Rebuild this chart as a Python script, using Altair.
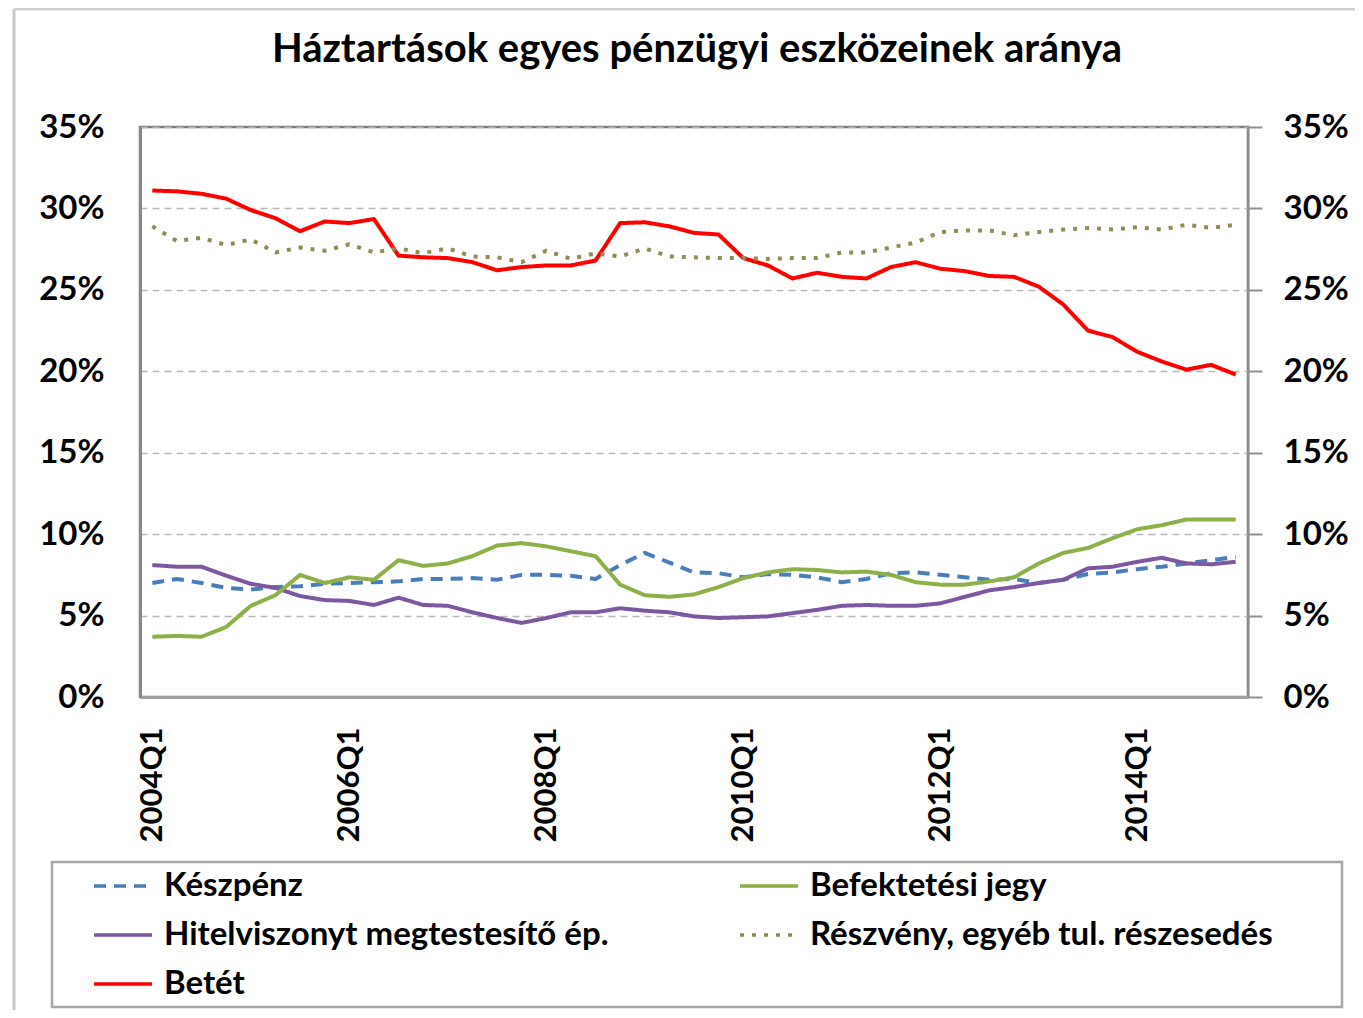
import altair as alt
import pandas as pd

quarters = [f"{y}Q{q}" for y in range(2004, 2016) for q in range(1, 5)][:45]
tick_labels = ["2004Q1", "2006Q1", "2008Q1", "2010Q1", "2012Q1", "2014Q1"]
title_text = "Háztartások egyes pénzügyi eszközeinek aránya"

series_names = ["Készpénz", "Befektetési jegy", "Hitelviszonyt megtestesítő ép.",
                "Részvény, egyéb tul. részesedés", "Betét"]
series_colors = ["#4a7ebb", "#8db048", "#7b58a0", "#948a54", "#ff0000"]
series_dash = [[12, 8], [1, 0], [1, 0], [4, 8], [1, 0]]

keszpenz = [7.0, 7.25, 7.0, 6.7, 6.6, 6.75, 6.8, 6.95, 7.0, 7.05, 7.1, 7.25, 7.25, 7.3, 7.2,
            7.5, 7.5, 7.45, 7.25, 8.1, 8.85, 8.25, 7.65, 7.6, 7.35, 7.55, 7.5, 7.35, 7.05, 7.25,
            7.6, 7.65, 7.5, 7.35, 7.2, 7.25, 7.0, 7.2, 7.55, 7.65, 7.85, 8.0, 8.2, 8.4, 8.6]
befektetesi = [3.7, 3.75, 3.7, 4.3, 5.6, 6.25, 7.5, 7.0, 7.35, 7.2, 8.4, 8.05, 8.2, 8.65, 9.3,
               9.45, 9.25, 8.95, 8.65, 6.9, 6.25, 6.15, 6.3, 6.75, 7.3, 7.65, 7.85, 7.8, 7.65, 7.7,
               7.5, 7.05, 6.9, 6.9, 7.1, 7.35, 8.2, 8.85, 9.15, 9.75, 10.3, 10.55, 10.9, 10.9, 10.9]
hitel = [8.1, 8.0, 8.0, 7.45, 6.95, 6.7, 6.2, 5.95, 5.9, 5.65, 6.1, 5.65, 5.6, 5.2, 4.85,
         4.55, 4.85, 5.2, 5.2, 5.45, 5.3, 5.2, 4.95, 4.85, 4.9, 4.95, 5.15, 5.35, 5.6, 5.65,
         5.6, 5.6, 5.75, 6.15, 6.55, 6.75, 7.0, 7.2, 7.9, 8.0, 8.3, 8.55, 8.2, 8.15, 8.3]
reszveny = [28.9, 28.0, 28.2, 27.75, 28.1, 27.3, 27.6, 27.4, 27.8, 27.3, 27.55, 27.25, 27.55, 27.05, 27.0,
            26.7, 27.4, 26.9, 27.25, 27.05, 27.55, 27.05, 27.0, 26.95, 26.95, 26.9, 26.95, 26.95, 27.3, 27.3,
            27.6, 27.9, 28.55, 28.65, 28.65, 28.35, 28.55, 28.7, 28.8, 28.7, 28.85, 28.7, 29.0, 28.8, 29.0]
betet = [31.1, 31.05, 30.9, 30.6, 29.9, 29.4, 28.6, 29.2, 29.1, 29.35, 27.1, 27.0, 26.95, 26.7, 26.2,
         26.4, 26.5, 26.5, 26.8, 29.1, 29.15, 28.9, 28.5, 28.4, 26.95, 26.5, 25.7, 26.05, 25.8, 25.7,
         26.4, 26.7, 26.3, 26.15, 25.85, 25.8, 25.2, 24.1, 22.5, 22.1, 21.2, 20.6, 20.1, 20.4, 19.8]

series_values = [keszpenz, befektetesi, hitel, reszveny, betet]
draw_order = [0, 2, 4, 1, 3]
# legend is filled column by column: column 1 = Készpénz, Hitel..., Betét; column 2 = the rest
legend_order = [0, 2, 4, 1, 3]
leg_names = [series_names[k] for k in legend_order]
leg_colors = [series_colors[k] for k in legend_order]
leg_dash = [series_dash[k] for k in legend_order]

rows = []
for k in draw_order:
    for q, v in zip(quarters, series_values[k]):
        rows.append({"negyedev": q, "sorozat": series_names[k], "ertek": v / 100.0, "rend": k})
df = pd.DataFrame(rows)

FONT = "Lato"
yvals = [0, 0.05, 0.10, 0.15, 0.20, 0.25, 0.30, 0.35]
yscale = alt.Scale(domain=[0, 0.35], nice=False, zero=True)
xscale = alt.Scale(type="point", domain=quarters, padding=0.5)

lines = alt.Chart(df).mark_line(strokeWidth=4, strokeCap="butt", strokeJoin="round").encode(
    x=alt.X("negyedev:N", scale=xscale, sort=quarters, title=None,
            axis=alt.Axis(values=tick_labels, labelAngle=-90, ticks=False, grid=False,
                          domainColor="#a0a0a0", domainWidth=3, labelPadding=30,
                          labelFont=FONT, labelFontSize=31, labelFontWeight="bold",
                          labelColor="#000000")),
    y=alt.Y("ertek:Q", scale=yscale, title=None,
            axis=alt.Axis(values=yvals, format=".0%", ticks=False, grid=True,
                          gridColor="#b8b8b8", gridDash=[7, 5], gridWidth=1.5,
                          domainColor="#888888", domainWidth=3, labelPadding=36,
                          labelFont=FONT, labelFontSize=33, labelFontWeight="bold",
                          labelColor="#000000")),
    color=alt.Color("sorozat:N", scale=alt.Scale(domain=leg_names, range=leg_colors),
                    title=None,
                    legend=alt.Legend(orient="none", legendX=-48, legendY=728, columns=2,
                                      symbolType="stroke", symbolSize=3364, symbolStrokeWidth=3.5,
                                      labelFont=FONT, labelFontSize=33, labelFontWeight="bold",
                                      labelColor="#000000", labelOffset=10, labelLimit=700,
                                      rowPadding=1, columnPadding=124, padding=0)),
    strokeDash=alt.StrokeDash("sorozat:N", scale=alt.Scale(domain=leg_names, range=leg_dash),
                              legend=None),
    detail="sorozat:N",
    order="rend:Q",
)

right_axis = alt.Chart(df).mark_point(opacity=0).encode(
    y=alt.Y("ertek:Q", scale=yscale, title=None,
            axis=alt.Axis(values=yvals, format=".0%", orient="right", grid=False,
                          ticks=True, tickSize=14, tickColor="#909090", tickWidth=2,
                          domainColor="#909090", domainWidth=2, labelPadding=21,
                          labelFont=FONT, labelFontSize=33, labelFontWeight="bold",
                          labelColor="#000000")),
)

one = pd.DataFrame({"a": [0]})
title_mark = alt.Chart(one).mark_text(text=title_text, font=FONT, fontSize=40, fontWeight="bold",
                                      color="#000000", align="center", baseline="middle").encode(
    x=alt.value(557), y=alt.value(-77))
legend_box = alt.Chart(one).mark_rect(filled=False, stroke="#a6a6a6", strokeWidth=2.5).encode(
    x=alt.value(-88), x2=alt.value(1202), y=alt.value(735), y2=alt.value(880))
outer_left = alt.Chart(one).mark_rule(stroke="#c8c8c8", strokeWidth=3).encode(
    x=alt.value(-126), y=alt.value(-118), y2=alt.value(883))
outer_top = alt.Chart(one).mark_rule(stroke="#d0d0d0", strokeWidth=3).encode(
    x=alt.value(-126), x2=alt.value(1215), y=alt.value(-118))

chart = alt.layer(lines, right_axis, title_mark, legend_box, outer_left, outer_top).resolve_scale(
    y="independent"
).properties(
    width=1108, height=570,
    autosize=alt.AutoSizeParams(type="none"),
    padding={"left": 132, "top": 119, "right": 107, "bottom": 313},
).configure_view(stroke="#808080", strokeWidth=2.5)

chart.save("out.html", embed_options={"renderer": "svg", "actions": False})
